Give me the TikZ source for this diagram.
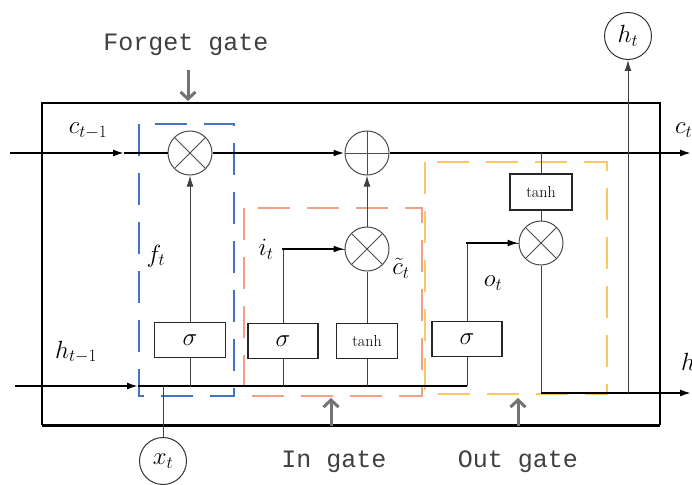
\documentclass[tikz,border=0pt]{standalone}
\usepackage{fontspec}
\newfontfamily\gatefont{Liberation Mono}
\usetikzlibrary{arrows.meta}
\begin{document}
\begin{tikzpicture}[x=1pt,y=-1pt,
  stem/.style={draw=black!75,line width=1pt},
  flow/.style={draw=black,line width=1.8pt},
  arr/.style={-{Latex[length=11pt,width=7pt]}},
  opbox/.style={draw=black!85,line width=1.6pt,fill=white,minimum height=35pt,inner sep=0pt},
  mult/.style={circle,draw=black!70,line width=1pt,minimum size=44pt,inner sep=0pt,fill=white,
    path picture={\draw[black!70,line width=1pt]
      (path picture bounding box.north west)--(path picture bounding box.south east)
      (path picture bounding box.north east)--(path picture bounding box.south west);}},
  addop/.style={circle,draw=black!70,line width=1pt,minimum size=44pt,inner sep=0pt,fill=white,
    path picture={\draw[black!70,line width=1pt]
      (path picture bounding box.north)--(path picture bounding box.south)
      (path picture bounding box.east)--(path picture bounding box.west);}},
  io/.style={circle,draw=black!80,line width=1pt,minimum size=47pt,inner sep=0pt},
  lab/.style={font=\fontsize{24}{28}\selectfont,inner sep=0pt},
  sig/.style={font=\fontsize{24}{28}\selectfont},
  tnh/.style={font=\fontsize{16}{18}\selectfont},
  gatelab/.style={font=\gatefont\fontsize{25}{28}\selectfont,text=black!75,inner sep=0pt},
  pointer/.style={draw=black!55,line width=3pt,-{Straight Barb[length=7pt,width=15pt]}},
  dashbox/.style={line width=2.5pt,dash pattern=on 32pt off 17pt}
]
\useasboundingbox (0,0) rectangle (692,484);
\fill[white] (0,0) rectangle (692,484);

% outer cell box
\draw[line width=1.6pt] (42,425) -- (42,103) -- (660,103) -- (660,425);
\draw[line width=3pt] (42,425) -- (660,425);

% gate regions
\draw[dashbox,draw={rgb,255:red,68;green,114;blue,196}] (139,124) rectangle (234,396);
\draw[dashbox,draw={rgb,255:red,242;green,160;blue,135}] (244,208) rectangle (422,396);
\draw[dashbox,draw={rgb,255:red,250;green,200;blue,100}] (425,162) rectangle (607,394);

% operators
\node[mult]  (m1)  at (190,153) {};
\node[addop] (add) at (367,153) {};
\node[mult]  (m2)  at (367,249) {};
\node[mult]  (m3)  at (541,243) {};
\node[opbox,minimum width=71pt,sig] (sf) at (190,340) {$\sigma$};
\node[opbox,minimum width=70pt,sig] (si) at (283,341) {$\sigma$};
\node[opbox,minimum width=61pt,tnh] (tn) at (367,341) {tanh};
\node[opbox,minimum width=70pt,sig] (so) at (467,339) {$\sigma$};
\node[opbox,minimum width=62pt,minimum height=36pt,tnh] (tn2) at (541,192) {tanh};
\node[io] (ht) at (628,36) {\fontsize{24}{28}\selectfont$h_t$};
\node[io] (xt) at (163,461) {\fontsize{24}{28}\selectfont$x_t$};

% coordinates
\coordinate (cin)  at (10,153);
\coordinate (cA)   at (124,153);
\coordinate (cout) at (691,153);
\coordinate (hin)  at (15,386);
\coordinate (hA)   at (138,386);
\coordinate (hE)   at (467,386);
\coordinate (hJ)   at (628,393);
\coordinate (hout) at (691,393);

% cell state line
\draw[flow,arr] (cin) -- (cA);
\draw[flow] (cA) -- (m1);
\draw[flow,arr] (m1) -- (add);
\draw[flow,arr] (add) -- (cout);

% hidden input line
\draw[flow,arr] (hin) -- (hA);
\draw[flow] (hA) -- (hE);
\draw[stem] (xt.north) -- (xt.north |- hA);

% forget gate
\draw[stem] (sf.south) -- (sf.south |- hA);
\draw[stem,arr] (sf.north) -- (m1.south);

% input gate
\draw[stem] (si.south) -- (si.south |- hA);
\draw[stem] (tn.south) -- (tn.south |- hA);
\draw[stem] (si.north) |- (m2.west);
\draw[flow,arr] ([xshift=-1pt]si.north |- m2.west) -- (m2.west);
\draw[stem] (tn.north) -- (m2.south);
\draw[stem,arr] (m2.north) -- (add.south);

% output gate
\draw[stem] (so.south) -- (hE);
\draw[stem] (so.north) |- (m3.west);
\draw[flow,arr] ([xshift=-1pt]so.north |- m3.west) -- (m3.west);
\draw[stem] (tn2.north |- cA) -- (tn2.north);
\draw[stem] (tn2.south) -- (m3.north);
\draw[stem] (m3.south) |- (hJ);
\draw[flow,arr] (hJ) -- (hout);
\draw[flow] (m3.south |- hJ) -- (hJ);
\draw[stem,arr] (hJ) -- (ht.south);

% labels
\node[lab] (lc1) at (88,131) {$c_{t-1}$};
\node[lab,anchor=west] (lc2) at (675,130) {$c_t$};
\node[lab] (lh1) at (76,352) {$h_{t-1}$};
\node[lab,anchor=west] (lh2) at (681,364) {$h_t$};
\node[lab] (lf) at (156,256) {$f_t$};
\node[lab] (li) at (266,249) {$i_t$};
\node[lab] (lct) at (401,268) {$\tilde{c}_t$};
\node[lab] (lo) at (493,283) {$o_t$};

% gate captions and pointers
\node[gatelab] (fg) at (186,45) {Forget gate};
\node[gatelab] (ig) at (334,462) {In gate};
\node[gatelab] (og) at (518,462) {Out gate};
\coordinate (fgA) at (188,70);
\coordinate (fgB) at (188,101);
\coordinate (igA) at (331,426);
\coordinate (igB) at (331,398);
\coordinate (ogA) at (518,426);
\coordinate (ogB) at (518,398);
\draw[pointer] (fgA) -- (fgB);
\draw[pointer] (igA) -- (igB);
\draw[pointer] (ogA) -- (ogB);
\end{tikzpicture}
\end{document}
